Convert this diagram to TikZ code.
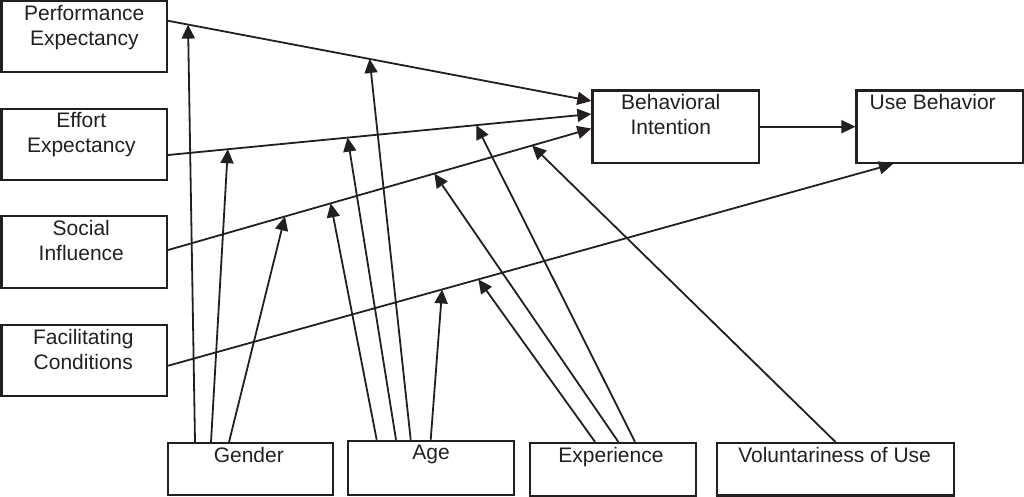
\documentclass[tikz,border=0pt]{standalone}
\usepackage{fontspec}
\setmainfont{Liberation Sans}
\usetikzlibrary{arrows.meta}
\definecolor{ink}{RGB}{35,31,32}
\begin{document}
\begin{tikzpicture}[x=1pt,y=-1pt,
  box/.style={draw=ink, line width=2.2pt, rectangle, inner sep=0pt},
  boxtext/.style={anchor=north, inner sep=0pt, align=center, text=ink,
    font=\fontsize{21}{25}\selectfont},
  conn/.style={draw=ink, line width=1.8pt, -{Triangle[length=14pt,width=13pt]}}
]
\useasboundingbox (0,0) rectangle (1024,497);

% left construct boxes
\node[box, minimum width=165.5pt, minimum height=71pt] (perf)   at (84.3,36.8)  {};
\node[box, minimum width=165.5pt, minimum height=71pt] (effort) at (84.3,144.2) {};
\node[box, minimum width=165.5pt, minimum height=72pt] (social) at (84.3,252.2) {};
\node[box, minimum width=165.5pt, minimum height=71pt] (facil)  at (84.3,360.8) {};
% right boxes
\node[box, minimum width=166.7pt, minimum height=72.3pt] (bi) at (675.8,126.7) {};
\node[box, minimum width=166.3pt, minimum height=72.3pt] (ub) at (939.7,126.7) {};
% moderator boxes
\node[box, minimum width=165pt,   minimum height=52pt]   (gender) at (250.8,469.2) {};
\node[box, minimum width=166.6pt, minimum height=54.3pt] (age)    at (431,468)     {};
\node[box, minimum width=166.4pt, minimum height=52.7pt] (exp)    at (613,469.3)   {};
\node[box, minimum width=236.8pt, minimum height=52.3pt] (vol)    at (835.6,469.3) {};

% texts
\node[boxtext] (perf-t)   at ([yshift=-5pt]perf.north)   {Performance\\Expectancy};
\node[boxtext] (effort-t) at ([xshift=-3pt,yshift=-5pt]effort.north) {Effort\\Expectancy};
\node[boxtext] (social-t) at ([xshift=-3pt,yshift=-5pt]social.north) {Social\\Influence};
\node[boxtext] (facil-t)  at ([xshift=-1pt,yshift=-5pt]facil.north)  {Facilitating\\Conditions};
\node[boxtext] (bi-t)     at ([xshift=-5pt,yshift=-5pt]bi.north)     {Behavioral\\Intention};
\node[boxtext] (ub-t)     at ([xshift=-7pt,yshift=-5pt]ub.north)     {Use Behavior};
\node[boxtext] (gender-t) at ([xshift=-2pt,yshift=-5pt]gender.north) {Gender};
\node[boxtext] (age-t)    at ([yshift=-5pt]age.north)    {Age};
\node[boxtext] (exp-t)    at ([xshift=-2pt,yshift=-5pt]exp.north)    {Experience};
\node[boxtext] (vol-t)    at ([xshift=-1pt,yshift=-5pt]vol.north)   {Voluntariness of Use};

% main paths
\draw[conn] ([yshift=16pt]perf.east) --
  coordinate[pos=0.047] (pG) coordinate[pos=0.476] (pA)
  ([yshift=25.7pt]bi.west);
\draw[conn] ([yshift=-10.8pt]effort.east) --
  coordinate[pos=0.141] (eG) coordinate[pos=0.424] (eA) coordinate[pos=0.728] (eE)
  ([yshift=12.7pt]bi.west);
\draw[conn] ([yshift=2.2pt]social.east) --
  coordinate[pos=0.276] (sG) coordinate[pos=0.384] (sA) coordinate[pos=0.629] (sE)
  coordinate[pos=0.860] (sV)
  ([yshift=-1.8pt]bi.west);
\draw[conn] ([yshift=-4.9pt]facil.east) --
  coordinate[pos=0.378] (fA) coordinate[pos=0.428] (fE)
  ([xshift=-46.7pt]ub.south);
\draw[conn] (bi.east) -- (ub.west);

% gender moderators
\draw[conn] ([xshift=-55.8pt]gender.north) -- (pG);
\draw[conn] ([xshift=-39.8pt]gender.north) -- (eG);
\draw[conn] ([xshift=-21.8pt]gender.north) -- (sG);
% age moderators
\draw[conn] ([xshift=-54.3pt]age.north) -- (sA);
\draw[conn] ([xshift=-35pt]age.north) -- (eA);
\draw[conn] ([xshift=-20.3pt]age.north) -- (pA);
\draw[conn] ([xshift=-0.3pt]age.north) -- (fA);
% experience moderators
\draw[conn] ([xshift=-18pt]exp.north) -- (fE);
\draw[conn] ([xshift=5.3pt]exp.north) -- (sE);
\draw[conn] ([xshift=22pt]exp.north) -- (eE);
% voluntariness
\draw[conn] (vol.north) -- (sV);
\end{tikzpicture}
\end{document}
